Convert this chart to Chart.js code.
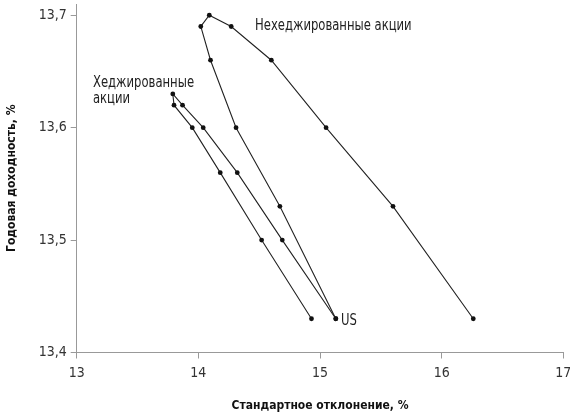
<!DOCTYPE html>
<html>
<head>
<meta charset="utf-8">
<script src="https://cdn.jsdelivr.net/npm/chart.js@4/dist/chart.umd.min.js"></script>
<style>
  html, body { margin: 0; padding: 0; background: #fff; }
  #wrap { width: 570px; height: 414px; position: relative; }
</style>
</head>
<body>
<div id="wrap"><canvas id="chart"></canvas></div>
<script>
// Values (std. deviation %, annual return %)
const unhedgedStd = [15.13, 14.67, 14.31, 14.10, 14.02, 14.09, 14.27, 14.60, 15.05, 15.60, 16.26];
const unhedgedRet = [13.43, 13.53, 13.60, 13.66, 13.69, 13.70, 13.69, 13.66, 13.60, 13.53, 13.43];
const hedgedStd = [15.13, 14.69, 14.32, 14.04, 13.87, 13.79, 13.80, 13.95, 14.18, 14.52, 14.93];
const hedgedRet = [13.43, 13.50, 13.56, 13.60, 13.62, 13.63, 13.62, 13.60, 13.56, 13.50, 13.43];

const xTicks = [13, 14, 15, 16, 17];
const yTicks = [13.4, 13.5, 13.6, 13.7];

const FONT = "'Liberation Sans Narrow', 'DejaVu Sans Condensed', sans-serif";

function toPoints(xs, ys) {
    return xs.map((x, i) => ({ x: x, y: ys[i] }));
}

// Text labels placed in data units
const labels = [
    { text: 'Нехеджированные акции', x: 14.466, y: 13.690 },
    { text: 'Хеджированные', x: 13.134, y: 13.640 },
    { text: 'акции', x: 13.134, y: 13.625 },
    { text: 'US', x: 15.173, y: 13.428 }
];

const labelPlugin = {
    id: 'labels',
    afterDatasetsDraw(chart) {
        const { ctx, scales } = chart;
        ctx.font = '15px ' + FONT;
        ctx.fillStyle = '#222';
        ctx.textAlign = 'left';
        ctx.textBaseline = 'middle';
        labels.forEach(l => {
            ctx.save();
            ctx.translate(scales.x.getPixelForValue(l.x), scales.y.getPixelForValue(l.y));
            ctx.scale(0.86, 1); // condensed look of the original typeface
            ctx.fillText(l.text, 0, 0);
            ctx.restore();
        });
    }
};

const lineStyle = {
    showLine: true,
    borderColor: '#222',
    borderWidth: 1.1,
    backgroundColor: '#111',
    pointRadius: 2.4,
    pointBorderWidth: 0,
    tension: 0
};

new Chart(document.getElementById('chart'), {
    type: 'scatter',
    data: {
        datasets: [
            Object.assign({ label: 'Нехеджированные акции', data: toPoints(unhedgedStd, unhedgedRet) }, lineStyle),
            Object.assign({ label: 'Хеджированные акции', data: toPoints(hedgedStd, hedgedRet) }, lineStyle)
        ]
    },
    options: {
        responsive: true,
        maintainAspectRatio: false,
        animation: false,
        layout: { padding: { top: 0, right: 6.7, bottom: 0, left: 0 } },
        plugins: {
            legend: { display: false },
            tooltip: { enabled: false }
        },
        scales: {
            x: {
                type: 'linear',
                min: 13,
                max: 17,
                afterBuildTicks: axis => { axis.ticks = xTicks.map(v => ({ value: v })); },
                afterFit: axis => {
                    axis.height = 61.5;
                    axis.paddingLeft = 0;
                    axis.paddingRight = 0;
                },
                border: { color: '#999', width: 1 },
                grid: { drawOnChartArea: false, drawTicks: true, tickLength: 6, color: '#999' },
                ticks: {
                    padding: 6,
                    color: '#333',
                    font: { family: FONT, size: 14 },
                    callback: v => String(v)
                },
                title: {
                    display: true,
                    text: 'Стандартное отклонение, %',
                    color: '#111',
                    padding: { top: 0, bottom: 1 },
                    font: { family: FONT, size: 12, weight: 'bold' }
                }
            },
            y: {
                type: 'linear',
                min: 13.4,
                max: 13.71,
                afterBuildTicks: axis => { axis.ticks = yTicks.map(v => ({ value: v })); },
                afterFit: axis => {
                    axis.width = 76.7;
                    axis.paddingTop = 0;
                    axis.paddingBottom = 0;
                },
                border: { color: '#999', width: 1 },
                grid: { drawOnChartArea: false, drawTicks: true, tickLength: 6, color: '#999' },
                ticks: {
                    padding: 4,
                    color: '#333',
                    font: { family: FONT, size: 14 },
                    callback: v => v.toFixed(1).replace('.', ',')
                },
                title: {
                    display: true,
                    text: 'Годовая доходность, %',
                    color: '#111',
                    padding: { top: 5, bottom: 0 },
                    font: { family: FONT, size: 12, weight: 'bold' }
                }
            }
        }
    },
    plugins: [labelPlugin]
});
</script>
</body>
</html>
